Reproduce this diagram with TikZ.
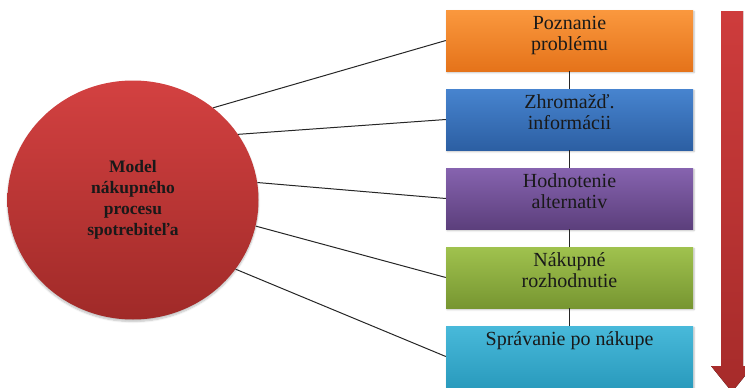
\documentclass[tikz,border=0pt]{standalone}
\usepackage{fontspec}
\setmainfont{Liberation Serif}
\usetikzlibrary{shapes.geometric,shadows.blur}
\definecolor{orT}{HTML}{FA983E}\definecolor{orB}{HTML}{E5731A}
\definecolor{blT}{HTML}{4784CF}\definecolor{blB}{HTML}{2C5FA3}
\definecolor{puT}{HTML}{8663AF}\definecolor{puB}{HTML}{5C3F7C}
\definecolor{grT}{HTML}{A0C24E}\definecolor{grB}{HTML}{779631}
\definecolor{cyT}{HTML}{48B9DA}\definecolor{cyB}{HTML}{2A9BBD}
\definecolor{rdT}{HTML}{D34141}\definecolor{rdB}{HTML}{A02A28}
\definecolor{arT}{HTML}{CE3C3C}\definecolor{arB}{HTML}{A62B2A}
\tikzset{
  stagebox/.style={rectangle, minimum width=247pt, minimum height=61pt, inner sep=0pt,
    blur shadow={shadow xshift=1pt, shadow yshift=-1.5pt, shadow blur steps=6, shadow opacity=25}},
  stagetext/.style={anchor=north, inner sep=0pt, align=center, text=black!90,
    font=\fontsize{20pt}{21.5pt}\selectfont},
  link/.style={draw=black!85, line width=1pt},
}
\begin{document}
\begin{tikzpicture}[x=1pt,y=-1pt]
\useasboundingbox (0,0) rectangle (745,388);
\clip (0,0) rectangle (745,388);
% circle
\node[ellipse, minimum width=251pt, minimum height=239pt, inner sep=0pt,
  top color=rdT, bottom color=rdB,
  blur shadow={shadow xshift=0pt, shadow yshift=-2pt, shadow blur steps=6, shadow opacity=25},
  align=center, font=\bfseries\fontsize{17.5pt}{21pt}\selectfont, text=black!90]
  (m) at (133,200) {Model\\nákupného\\procesu\\spotrebiteľa};
% boxes
\node[stagebox, top color=orT, bottom color=orB] (b1) at (569.5,40.5) {};
\node[stagebox, top color=blT, bottom color=blB] (b2) at (569.5,119.5) {};
\node[stagebox, top color=puT, bottom color=puB] (b3) at (569.5,198.5) {};
\node[stagebox, top color=grT, bottom color=grB] (b4) at (569.5,277.5) {};
\node[stagebox, top color=cyT, bottom color=cyB] (b5) at (569.5,356.5) {};
\node[stagetext] (t1) at ([yshift=-4pt]b1.north) {\strut Poznanie\\problému};
\node[stagetext] (t2) at ([yshift=-4pt]b2.north) {\strut Zhromažď.\\informácii};
\node[stagetext] (t3) at ([yshift=-4pt]b3.north) {\strut Hodnotenie\\alternativ};
\node[stagetext] (t4) at ([yshift=-4pt]b4.north) {\strut Nákupné\\rozhodnutie};
\node[stagetext] (t5) at ([yshift=-4pt]b5.north) {\strut Správanie po nákupe};
% vertical connectors
\draw[link] (b1.south) -- (b2.north);
\draw[link] (b2.south) -- (b3.north);
\draw[link] (b3.south) -- (b4.north);
\draw[link] (b4.south) -- (b5.north);
% radial connectors
\draw[link] (m.49) -- (b1.west);
\draw[link] (m.32) -- (b2.west);
\draw[link] (m.8) -- (b3.west);
\draw[link] (m.-12) -- (b4.west);
\draw[link] (m.-34) -- (b5.west);
% big arrow
\fill[top color=arT, bottom color=arB]
  (721,11) -- (743,11) -- (743,366) -- (753,366) -- (732,392) -- (711,366) -- (721,366) -- cycle;
\end{tikzpicture}
\end{document}
